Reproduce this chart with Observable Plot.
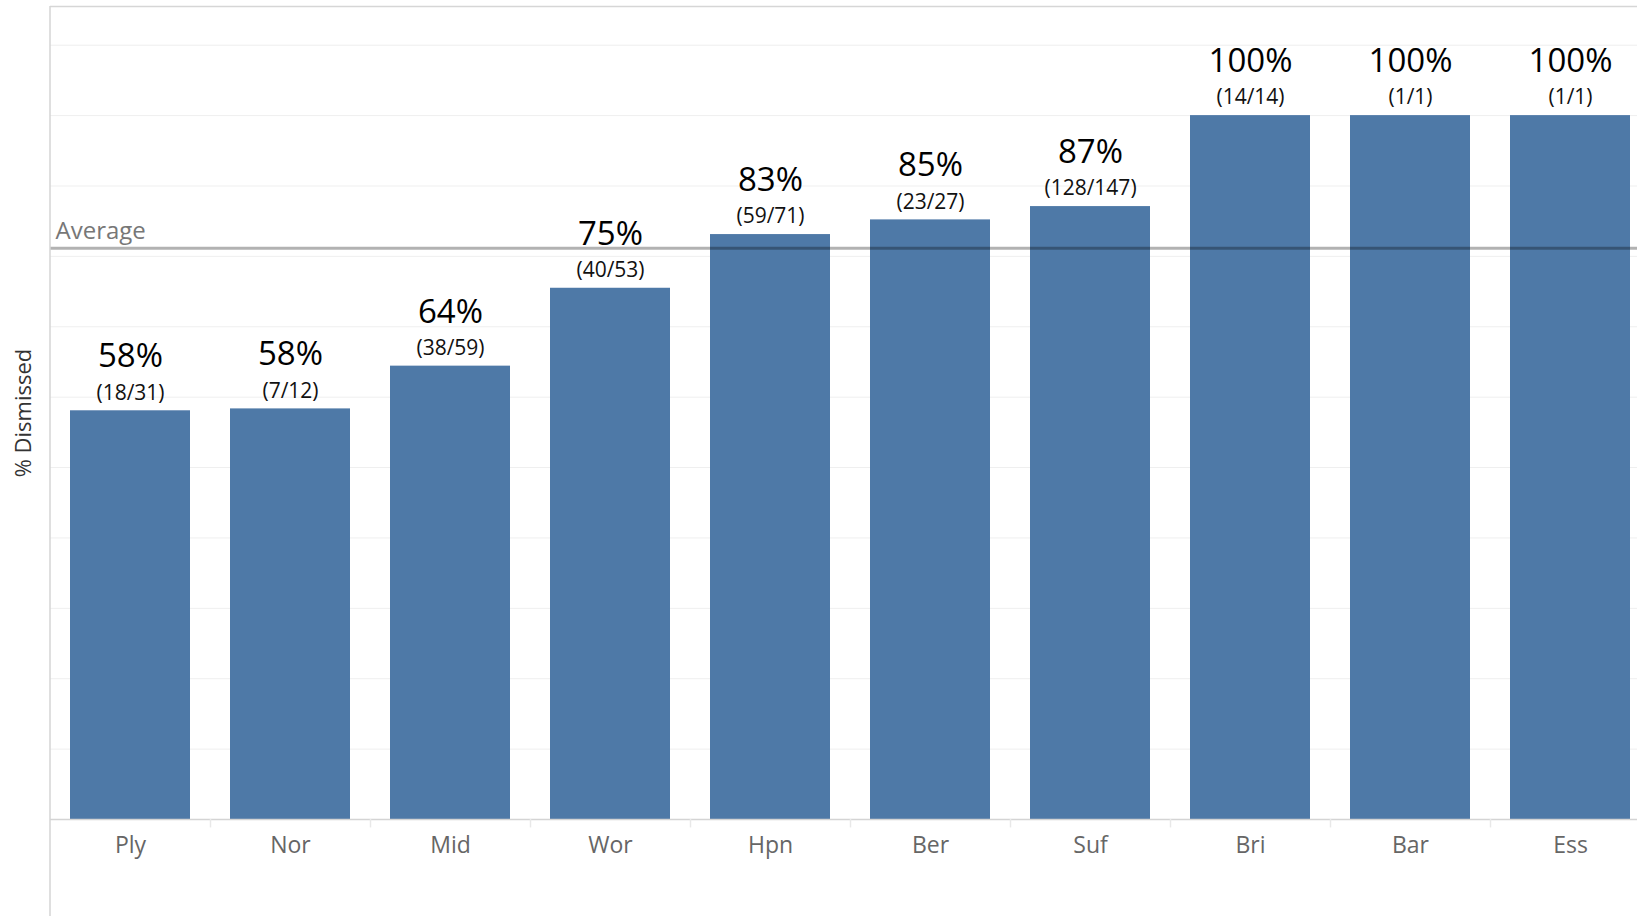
<!DOCTYPE html>
<html>
<head>
<meta charset="utf-8">
<script src="https://cdn.jsdelivr.net/npm/d3@7"></script>
<script src="https://cdn.jsdelivr.net/npm/@observablehq/plot@0.6"></script>
<style>
  html, body { margin: 0; padding: 0; background: #fff; overflow: hidden; }
  #chart svg { display: block; max-width: none; }
</style>
</head>
<body>
<div id="chart"></div>
<script>
const names = ["Ply", "Nor", "Mid", "Wor", "Hpn", "Ber", "Suf", "Bri", "Bar", "Ess"];
const dismissed = [18, 7, 38, 40, 59, 23, 128, 14, 1, 1];
const totals = [31, 12, 59, 53, 71, 27, 147, 14, 1, 1];
const gridTicks = [0.1, 0.2, 0.3, 0.4, 0.5, 0.6, 0.7, 0.8, 0.9, 1.0, 1.1];
const yMax = 1.155;
const yTitle = "% Dismissed";
const avgLabel = "Average";

const data = names.map((n, i) => ({
  name: n,
  pct: dismissed[i] / totals[i],
  label: Math.round(dismissed[i] / totals[i] * 100) + "%",
  frac: "(" + dismissed[i] + "/" + totals[i] + ")"
}));
const avg = d3.mean(data, d => d.pct);

const W = 1637, H = 916, ML = 50, MB = 97, MT = 6;
const step = 160;
const font = "'Open Sans', 'Noto Sans', sans-serif";

const plot = Plot.plot({
  width: W,
  height: H,
  marginLeft: ML,
  marginRight: 0,
  marginTop: MT,
  marginBottom: MB,
  style: { fontFamily: font, background: "#fff", overflow: "visible" },
  x: { domain: names, range: [ML, ML + step * names.length], paddingInner: 0.25, paddingOuter: 0.125, label: null },
  y: { domain: [0, yMax], label: null, axis: null },
  marks: [
    Plot.ruleY(gridTicks, { stroke: "#efefef", strokeWidth: 1 }),
    Plot.ruleY([yMax], { stroke: "#d6d6d6", strokeWidth: 1.5 }),
    Plot.barY(data, { x: "name", y: "pct", fill: "#4e79a7" }),
    Plot.ruleY([avg], { stroke: "black", strokeOpacity: 0.3, strokeWidth: 3 }),
    Plot.text([avg], { y: d => d, frameAnchor: "left", textAnchor: "start", dx: 5, dy: -17, text: () => avgLabel, fontSize: 24, fill: "#777" }),
    Plot.text(data, { x: "name", y: "pct", text: "label", dy: -54, fontSize: 33, fill: "#000" }),
    Plot.text(data, { x: "name", y: "pct", text: "frac", dy: -18, fontSize: 21, fill: "#111" }),
    Plot.ruleY([0], { stroke: "#d4d4d4", strokeWidth: 1.5 }),
    Plot.ruleX(names.slice(1), { x: d => d, dx: -step / 2, y1: 0, y2: -0.012, stroke: "#e8e8e8", strokeWidth: 1.5 }),
    Plot.axisX({ tickSize: 0, tickPadding: 17, fontSize: 23, fill: "#666", label: null }),
    Plot.text([yTitle], { frameAnchor: "left", textAnchor: "middle", text: d => d, rotate: -90, dx: -27, fontSize: 22, fill: "#333" })
  ]
});

// full-height left border
d3.select(plot).append("line")
  .attr("x1", ML).attr("x2", ML)
  .attr("y1", MT).attr("y2", H)
  .attr("stroke", "#d4d4d4").attr("stroke-width", 1.5);

document.getElementById("chart").appendChild(plot);
</script>
</body>
</html>
